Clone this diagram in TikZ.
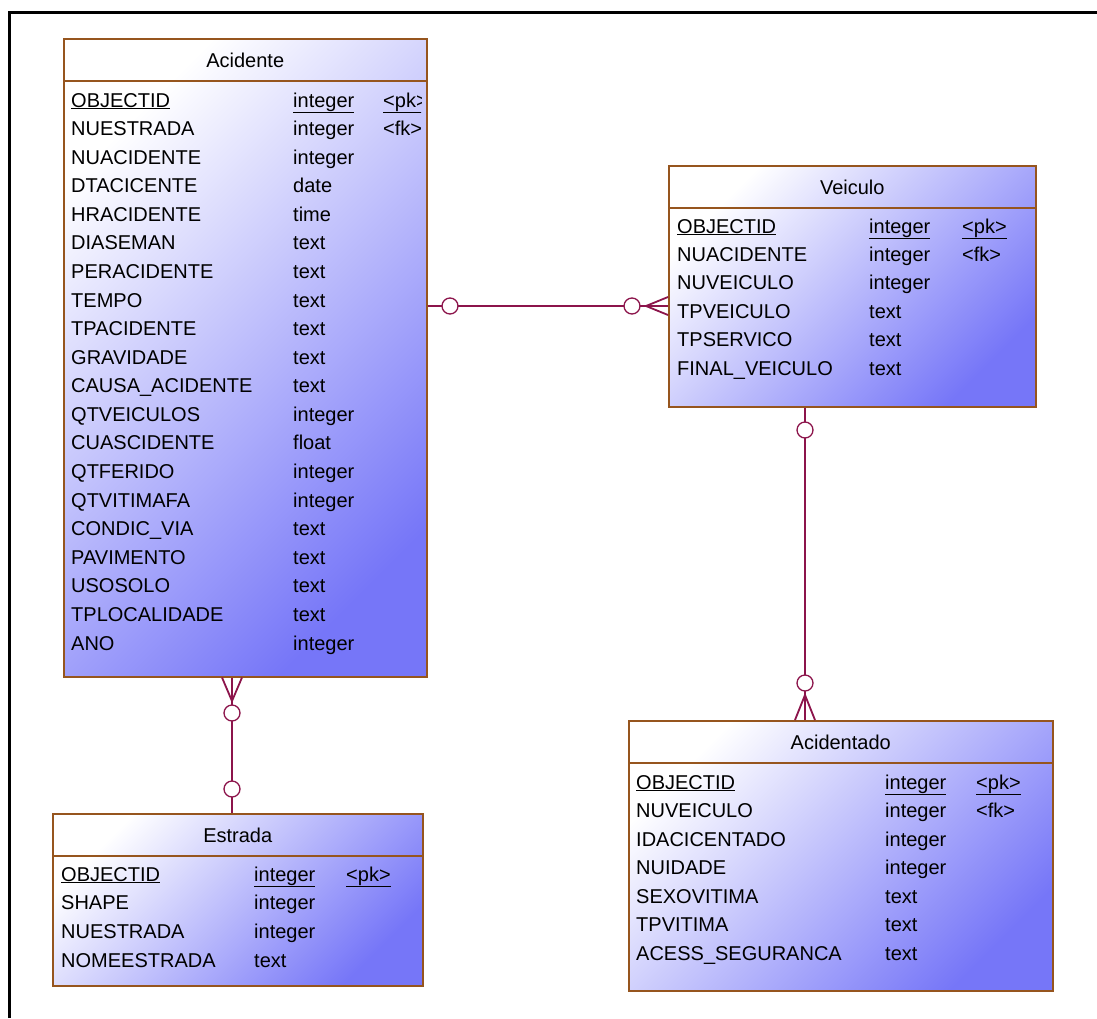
\documentclass[tikz,border=0pt]{standalone}
\usepackage{fontspec}
\setmainfont{Liberation Sans}
\usetikzlibrary{positioning, calc}

\definecolor{tblborder}{RGB}{150,85,30}
\definecolor{tblblue}{RGB}{118,118,248}
\definecolor{relcol}{RGB}{140,20,75}

\begin{document}
\begin{tikzpicture}[
    x=1pt, y=-1pt,
    tbl/.style={
        rectangle,
        draw=tblborder,
        line width=1.5pt,
        top color=white,
        bottom color=tblblue,
        shading angle=45,
        anchor=north west,
        inner sep=0pt
    },
    tbltitle/.style={inner sep=0pt, font=\fontsize{20}{24}\selectfont},
    tblfield/.style={anchor=base west, inner sep=0pt, font=\fontsize{20}{24}\selectfont},
    rel/.style={draw=relcol, line width=1.8pt},
    optcirc/.style={circle, draw=relcol, line width=1.3pt, fill=white, inner sep=0pt, minimum size=16pt}
]
\useasboundingbox (0,0) rectangle (1097,1018);
% frame
\draw[line width=3pt] (9,1018) -- (9,12) -- (1097,12);

% === Tables ===
\node[tbl, minimum width=363pt, minimum height=638pt] (acidente) at (63,38) {};
\node[tbl, minimum width=367pt, minimum height=241pt] (veiculo) at (668,165) {};
\node[tbl, minimum width=424pt, minimum height=270pt] (acidentado) at (628,720) {};
\node[tbl, minimum width=370pt, minimum height=172pt] (estrada) at (52,813) {};

\foreach \t/\ttl in {acidente/Acidente, veiculo/Veiculo, acidentado/Acidentado, estrada/Estrada} {
    \draw[draw=tblborder, line width=1.5pt] ([yshift=-43pt]\t.north west) -- ([yshift=-43pt]\t.north east);
    \node[tbltitle] (\t-title) at ([yshift=-22pt]\t.north) {\ttl};
}

% === Acidente fields ===
\begin{scope}
\clip (63,38) rectangle (421,676);
\node[tblfield] (acid-n0) at (71,107) {\underline{OBJECTID}};
\node[tblfield] (acid-t0) at (293,107) {\underline{integer}};
\node[tblfield] (acid-k0) at (383,107) {\underline{<pk>}};
\node[tblfield] (acid-k1) at (383,135.6) {<fk>};
\end{scope}
\foreach \fname/\ftype [count=\i] in {NUESTRADA/integer, NUACIDENTE/integer, DTACICENTE/date,
    HRACIDENTE/time, DIASEMAN/text, PERACIDENTE/text, TEMPO/text, TPACIDENTE/text,
    GRAVIDADE/text, CAUSA\_ACIDENTE/text, QTVEICULOS/integer, CUASCIDENTE/float,
    QTFERIDO/integer, QTVITIMAFA/integer, CONDIC\_VIA/text, PAVIMENTO/text,
    USOSOLO/text, TPLOCALIDADE/text, ANO/integer} {
    \node[tblfield] (acid-n\i) at (71,{107+28.58*\i}) {\fname};
    \node[tblfield] (acid-t\i) at (293,{107+28.58*\i}) {\ftype};
}

% === Veiculo fields ===
\node[tblfield] (veic-n0) at (677,233) {\underline{OBJECTID}};
\node[tblfield] (veic-t0) at (869,233) {\underline{integer}};
\node[tblfield] (veic-k0) at (962,233) {\underline{<pk>}};
\node[tblfield] (veic-k1) at (962,261.4) {<fk>};
\foreach \fname/\ftype [count=\i] in {NUACIDENTE/integer, NUVEICULO/integer, TPVEICULO/text,
    TPSERVICO/text, FINAL\_VEICULO/text} {
    \node[tblfield] (veic-n\i) at (677,{233+28.4*\i}) {\fname};
    \node[tblfield] (veic-t\i) at (869,{233+28.4*\i}) {\ftype};
}

% === Acidentado fields ===
\node[tblfield] (acdt-n0) at (636,789) {\underline{OBJECTID}};
\node[tblfield] (acdt-t0) at (885,789) {\underline{integer}};
\node[tblfield] (acdt-k0) at (976,789) {\underline{<pk>}};
\node[tblfield] (acdt-k1) at (976,817.5) {<fk>};
\foreach \fname/\ftype [count=\i] in {NUVEICULO/integer, IDACICENTADO/integer, NUIDADE/integer,
    SEXOVITIMA/text, TPVITIMA/text, ACESS\_SEGURANCA/text} {
    \node[tblfield] (acdt-n\i) at (636,{789+28.5*\i}) {\fname};
    \node[tblfield] (acdt-t\i) at (885,{789+28.5*\i}) {\ftype};
}

% === Estrada fields ===
\node[tblfield] (estr-n0) at (61,881) {\underline{OBJECTID}};
\node[tblfield] (estr-t0) at (254,881) {\underline{integer}};
\node[tblfield] (estr-k0) at (346,881) {\underline{<pk>}};
\foreach \fname/\ftype [count=\i] in {SHAPE/integer, NUESTRADA/integer, NOMEESTRADA/text} {
    \node[tblfield] (estr-n\i) at (61,{881+28.7*\i}) {\fname};
    \node[tblfield] (estr-t\i) at (254,{881+28.7*\i}) {\ftype};
}

% === Relationships ===
% Acidente -- Veiculo
\coordinate (r1foot) at (646,306);
\draw[rel] (acidente.east |- r1foot) -- (veiculo.west |- r1foot);
\draw[rel] ($(veiculo.west |- r1foot)+(0,-9)$) -- (r1foot) -- ($(veiculo.west |- r1foot)+(0,9)$);
\node[optcirc] (r1a) at (450,306) {};
\node[optcirc] (r1b) at (632,306) {};

% Acidente -- Estrada
\coordinate (r2foot) at (232,701);
\draw[rel] (acidente.south -| r2foot) -- (estrada.north -| r2foot);
\draw[rel] ($(acidente.south -| r2foot)+(-10,0)$) -- (r2foot) -- ($(acidente.south -| r2foot)+(10,0)$);
\node[optcirc] (r2a) at (232,713) {};
\node[optcirc] (r2b) at (232,789) {};

% Veiculo -- Acidentado
\coordinate (r3foot) at (805,695);
\draw[rel] (veiculo.south -| r3foot) -- (acidentado.north -| r3foot);
\draw[rel] ($(acidentado.north -| r3foot)+(-10,0)$) -- (r3foot) -- ($(acidentado.north -| r3foot)+(10,0)$);
\node[optcirc] (r3a) at (805,430) {};
\node[optcirc] (r3b) at (805,683) {};
\end{tikzpicture}
\end{document}
